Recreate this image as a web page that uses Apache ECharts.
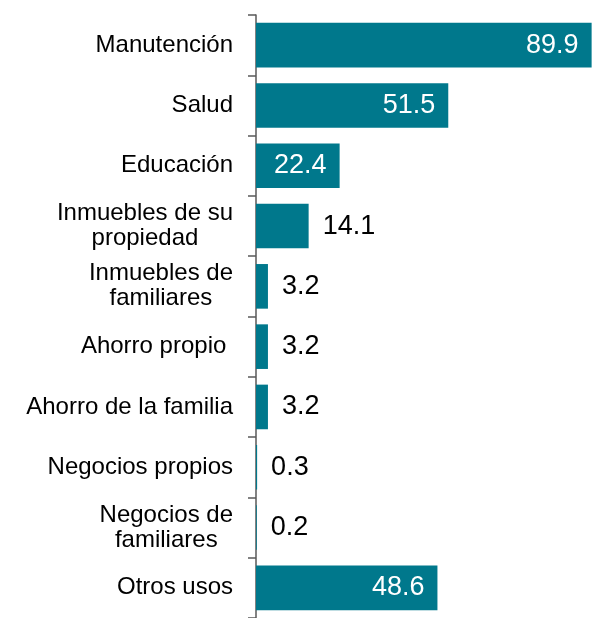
<!DOCTYPE html>
<html>
<head>
<meta charset="utf-8">
<script src="https://cdn.jsdelivr.net/npm/echarts@6/dist/echarts.min.js"></script>
<style>
  html, body { margin: 0; padding: 0; background: #fff; }
  #chart { width: 592px; height: 618px; }
</style>
</head>
<body>
<div id="chart"></div>
<script>
// categories, top to bottom
const categories = [
  'Manutención',
  'Salud',
  'Educación',
  'Inmuebles de su\npropiedad',
  'Inmuebles de\nfamiliares',
  'Ahorro propio ',
  'Ahorro de la familia',
  'Negocios propios',
  'Negocios de\nfamiliares',
  'Otros usos'
];
const values = [89.9, 51.5, 22.4, 14.1, 3.2, 3.2, 3.2, 0.3, 0.2, 48.6];
// which bars carry their number inside
const labelInside = [true, true, true, false, false, false, false, false, false, true];

const barColor = '#00788c';
const fontFamily = 'Arial, "Liberation Sans", sans-serif';

const chart = echarts.init(document.getElementById('chart'));

const seriesData = values.map((v, i) => ({
  value: v,
  label: labelInside[i]
    ? { position: 'insideRight', distance: 13, color: '#fff' }
    : { position: 'right', distance: 14, color: '#000' }
}));

chart.setOption({
  animation: false,
  grid: { left: 256, right: 0, top: 15, bottom: -6 },
  xAxis: {
    type: 'value',
    min: 0,
    max: 90,
    show: false
  },
  yAxis: {
    type: 'category',
    inverse: true,
    data: categories,
    axisLine: { show: true, lineStyle: { color: '#595959', width: 1.5 } },
    axisTick: { show: true, length: 8, lineStyle: { color: '#595959', width: 1.5 } },
    axisLabel: {
      margin: 23,
      color: '#000',
      fontFamily: fontFamily,
      fontSize: 24,
      lineHeight: 25,
      // center each line within the label block, block sits right of axis
      formatter: (val) => val.split('\n').map(s => '{c|' + s + '}').join('\n'),
      rich: {
        c: { align: 'center', fontSize: 24, lineHeight: 25, fontFamily: fontFamily, color: '#000' }
      }
    },
    splitLine: { show: false }
  },
  series: [{
    type: 'bar',
    data: seriesData,
    barCategoryGap: '26%',
    itemStyle: { color: barColor },
    label: {
      show: true,
      fontFamily: fontFamily,
      fontSize: 27,
      formatter: (p) => p.value.toFixed(1)
    }
  }]
});
</script>
</body>
</html>
